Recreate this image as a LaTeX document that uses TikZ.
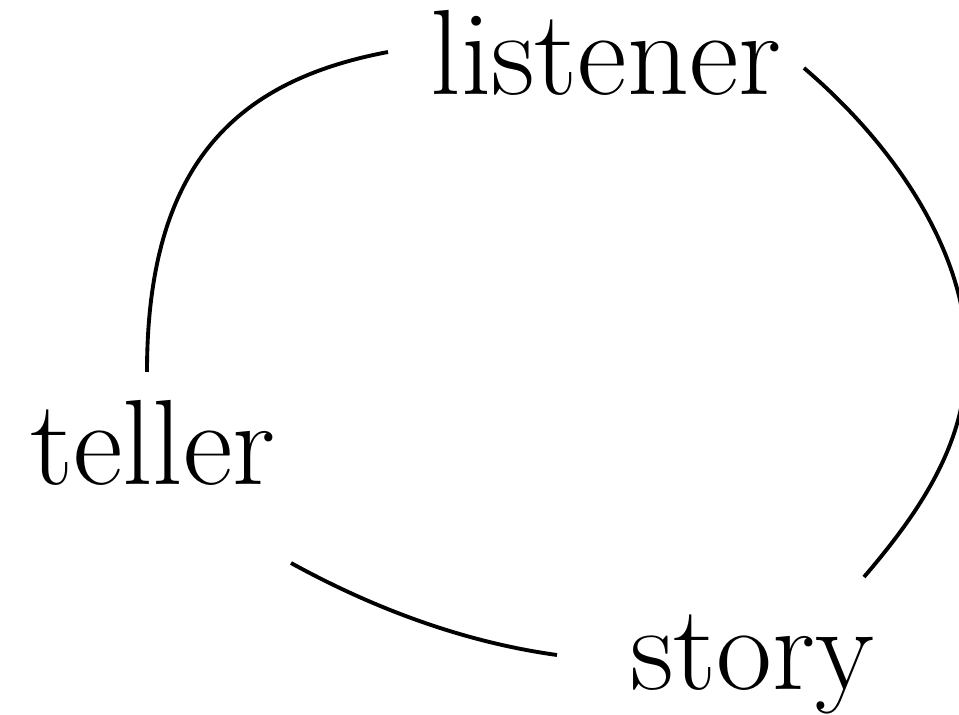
\documentclass[tikz,border=0pt]{standalone}
\begin{document}
\begin{tikzpicture}[x=0.01cm,y=-0.01cm,
  word/.style={inner sep=0pt,anchor=base,font=\fontsize{34.5}{42}\selectfont},
  link/.style={line width=1.1pt}]
\useasboundingbox (0,0) rectangle (959,715);
\node[word] (listener) at (606,95) {listener};
\node[word] (teller) at (153,485) {teller};
\node[word] (story) at (752,690) {story};
\coordinate (a1) at (147,372);
\coordinate (a2) at (388,52);
\coordinate (b1) at (804,68);
\coordinate (bm) at (966,340);
\coordinate (b2) at (864,577);
\coordinate (c1) at (291,563);
\coordinate (c2) at (557,655);
\draw[link] (a1) .. controls (147,160) and (240,80) .. (a2);
\draw[link] (b1) .. controls (900,150) and (960,250) .. (bm) .. controls (972,430) and (930,500) .. (b2);
\draw[link] (c1) .. controls (380,612) and (470,643) .. (c2);
\end{tikzpicture}
\end{document}
